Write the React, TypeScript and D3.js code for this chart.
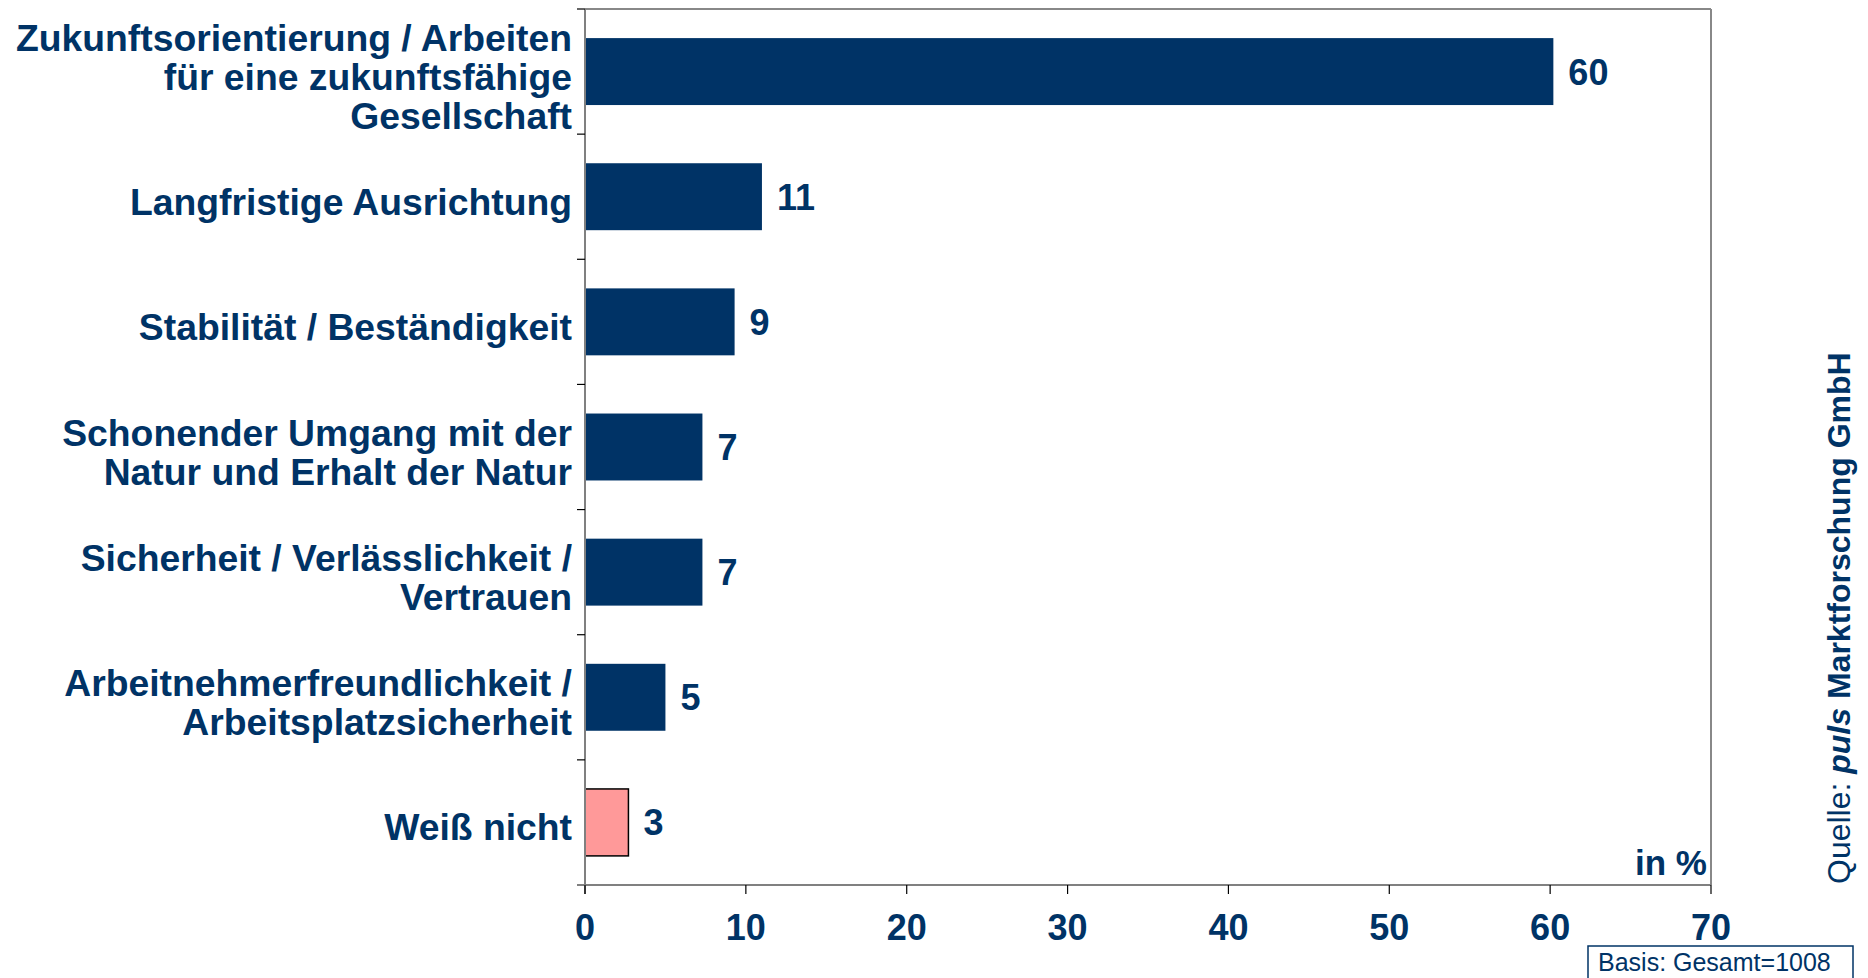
import React from "react";
import * as d3 from "d3";

const categories: string[][] = [
  ["Zukunftsorientierung / Arbeiten", "für eine zukunftsfähige", "Gesellschaft"],
  ["Langfristige Ausrichtung"],
  ["Stabilität / Beständigkeit"],
  ["Schonender Umgang mit der", "Natur und Erhalt der Natur"],
  ["Sicherheit / Verlässlichkeit /", "Vertrauen"],
  ["Arbeitnehmerfreundlichkeit /", "Arbeitsplatzsicherheit"],
  ["Weiß nicht"],
];
const values: number[] = [60.2, 11.0, 9.3, 7.3, 7.3, 5.0, 2.7];
const highlight: boolean[] = [false, false, false, false, false, false, true];
const xTicks: number[] = [0, 10, 20, 30, 40, 50, 60, 70];

const W = 1868;
const H = 978;
const NAVY = "#003366";
const PINK = "#FF9999";
const FONT = "'Liberation Sans', Arial, sans-serif";

export default function App() {
  const left = 585;
  const right = 1711;
  const top = 9;
  const bottom = 885;

  const x = d3.scaleLinear().domain([0, 70]).range([left, right]);
  const y = d3
    .scaleBand<number>()
    .domain(d3.range(categories.length))
    .range([top, bottom])
    .paddingInner(0.465)
    .paddingOuter(0.2325);
  const step = y.step();
  const fmt = d3.format(".0f");

  const boundaries = d3.range(categories.length + 1).map((i) => top + i * step);

  return (
    <svg
      width={W}
      height={H}
      style={{ position: "absolute", left: 0, top: 0, background: "#fff" }}
      fontFamily={FONT}
    >
      <rect x={0} y={0} width={W} height={H} fill="#fff" />
      {/* plot frame top & right */}
      <line x1={left} x2={right} y1={top} y2={top} stroke="#888" strokeWidth={2} />
      <line x1={right} x2={right} y1={top} y2={bottom} stroke="#888" strokeWidth={2} />

      {/* bars */}
      {values.map((v, i) => (
        <rect
          key={i}
          x={x(0)}
          y={y(i)!}
          width={x(v) - x(0)}
          height={y.bandwidth()}
          fill={highlight[i] ? PINK : NAVY}
          stroke={highlight[i] ? "#000" : "none"}
          strokeWidth={highlight[i] ? 1.5 : 0}
        />
      ))}

      {/* value labels */}
      {values.map((v, i) => (
        <text
          key={i}
          x={x(v) + 15}
          y={y(i)! + y.bandwidth() / 2 + 13}
          fill={NAVY}
          fontSize={36}
          fontWeight="bold"
        >
          {fmt(v)}
        </text>
      ))}

      {/* category labels */}
      {categories.map((lines, i) => {
        const c = y(i)! + y.bandwidth() / 2;
        const n = lines.length;
        return (
          <text
            key={i}
            textAnchor="end"
            fill={NAVY}
            fontSize={37.3}
            fontWeight="bold"
          >
            {lines.map((l, j) => (
              <tspan key={j} x={572} y={c + 18 + (j - (n - 1) / 2) * 39}>
                {l}
              </tspan>
            ))}
          </text>
        );
      })}

      {/* y axis */}
      <line x1={left} x2={left} y1={top} y2={bottom + 9} stroke="#808080" strokeWidth={2} />
      {boundaries.map((b, i) => (
        <line key={i} x1={left - 8} x2={left} y1={b} y2={b} stroke="#000" strokeWidth={1.2} />
      ))}

      {/* x axis */}
      <line x1={left - 8} x2={right} y1={bottom} y2={bottom} stroke="#808080" strokeWidth={2} />
      {xTicks.map((t) => (
        <g key={t}>
          <line x1={x(t)} x2={x(t)} y1={bottom} y2={bottom + 9} stroke="#000" strokeWidth={1.2} />
          <text
            x={x(t)}
            y={940}
            textAnchor="middle"
            fill={NAVY}
            fontSize={36}
            fontWeight="bold"
          >
            {t}
          </text>
        </g>
      ))}

      {/* unit */}
      <text x={1707} y={875} textAnchor="end" fill={NAVY} fontSize={35} fontWeight="bold">
        in %
      </text>

      {/* basis box */}
      <rect x={1588} y={946} width={265} height={40} fill="#fff" stroke={NAVY} strokeWidth={1.5} />
      <text x={1598} y={971} fill={NAVY} fontSize={25}>
        Basis: Gesamt=1008
      </text>

      {/* source */}
      <text
        transform="translate(1850,884) rotate(-90)"
        fill={NAVY}
        fontSize={32}
      >
        <tspan>Quelle: </tspan>
        <tspan fontWeight="bold" fontStyle="italic">puls</tspan>
        <tspan fontWeight="bold"> Marktforschung GmbH</tspan>
      </text>
    </svg>
  );
}
